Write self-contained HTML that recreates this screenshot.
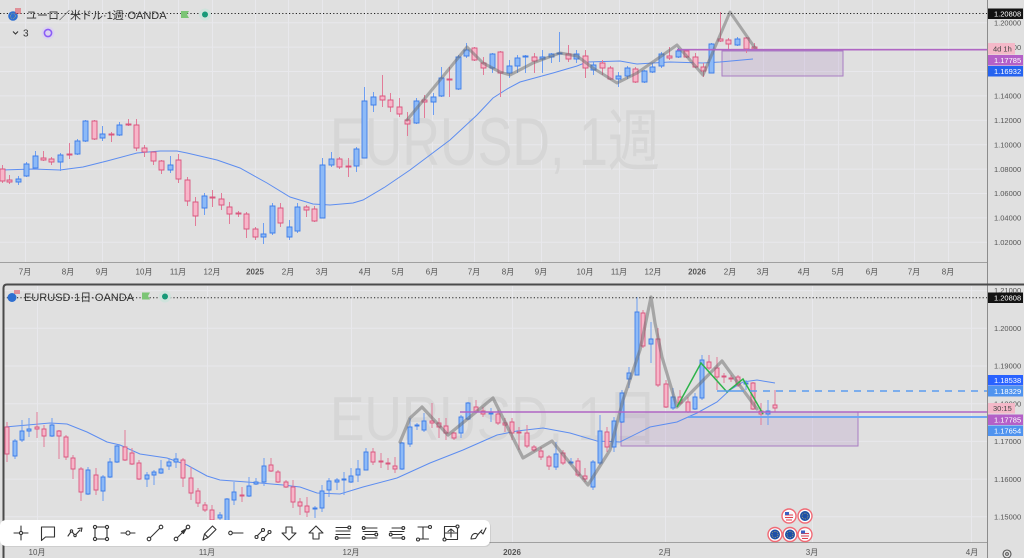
<!DOCTYPE html>
<html><head><meta charset="utf-8">
<style>
html,body{margin:0;padding:0;background:#e0e0e0;overflow:hidden;}
svg{display:block;font-family:"Liberation Sans","Noto Sans CJK JP",sans-serif;}
</style></head><body>
<svg width="1024" height="558" viewBox="0 0 1024 558" xmlns="http://www.w3.org/2000/svg">
<defs>
<clipPath id="ct"><rect x="0" y="0" width="987" height="262"/></clipPath>
<clipPath id="cb"><rect x="4" y="286" width="983" height="256"/></clipPath>
</defs>
<rect width="1024" height="558" fill="#e0e0e0"/>

<!-- TOP PANE -->
<g clip-path="url(#ct)">
<g stroke="#e8e8ec" stroke-width="1">
<path d="M0 22.7H987M0 47.1H987M0 71.5H987M0 95.9H987M0 120.3H987M0 144.7H987M0 169.1H987M0 193.5H987M0 217.9H987M0 242.3H987"/>
<path d="M25.5 0V262M68.5 0V262M102.5 0V262M144.5 0V262M178.5 0V262M212.5 0V262M255.5 0V262M288.5 0V262M322.5 0V262M365.5 0V262M398.5 0V262M432.5 0V262M474.5 0V262M508.5 0V262M541.5 0V262M585.5 0V262M619.5 0V262M653.5 0V262M697.5 0V262M730.5 0V262M763.5 0V262M804.5 0V262M838.5 0V262M872.5 0V262M914.5 0V262M948.5 0V262"/>
</g>
<text x="330" y="165" font-size="68" textLength="330" lengthAdjust="spacingAndGlyphs" fill="#d6d6d6">EURUSD, 1週</text>
<rect x="722" y="51" width="121" height="25" fill="rgba(150,100,180,0.16)" stroke="#a97dc2" stroke-width="1"/>
<polyline fill="none" stroke="#5d8df0" stroke-width="1" points="2,170 33,169 60,170 83,167 107,161 137,153 160,151 177,151 187,153 217,160 240,168 267,183 290,197 313,204 330,205 353,203 363,200 385,187 410,170 450,140 477,115 493,98 507,89 520,82 553,73 577,66 587,62 620,61 637,64 653,63 670,62 703,63 720,62 753,59"/>
<!-- weekly wicks -->
<path fill="none" stroke="#6d9ef2" stroke-width="1" d="M18.5 176V185M26.5 162V177M35.5 151V169M60.5 153V171M77.5 139V155M85.5 120V142M102.5 126V141M119.5 122V136M170.5 156V173M204.5 193V215M263.5 223V244M272.5 203V235M289.5 220V240M297.5 203V233M322.5 158V218M331.5 152V167M356.5 147V172M364.5 87V158M373.5 92V112M416.5 98V124M433.5 93V115M441.5 67V97M458.5 55V90M466.5 43V58M492.5 53V73M509.5 60V78M517.5 55V73M525.5 55V73M542.5 50V73M551.5 53V63M559.5 32V62M576.5 50V63M593.5 62V75M618.5 72V87M627.5 66V79M644.5 70V83M652.5 63V73M661.5 52V68M678.5 48V58M711.5 43V73M737.5 37V46"/>
<path fill="none" stroke="#e27b98" stroke-width="1" d="M2.5 165V183M9.5 175V184M43.5 151V161M51.5 157V165M69.5 143V159M94.5 120V140M111.5 132V142M128.5 119V126M136.5 119V151M144.5 145V157M153.5 152V165M161.5 160V174M178.5 154V183M187.5 177V206M195.5 197V226M212.5 190V207M221.5 193V210M229.5 202V224M238.5 211V217M246.5 212V238M255.5 227V240M280.5 203V227M306.5 205V217M314.5 206V222M339.5 157V169M348.5 158V177M382.5 75V107M390.5 93V112M399.5 98V117M407.5 112V136M424.5 95V118M449.5 67V97M474.5 47V61M483.5 57V75M500.5 51V97M534.5 53V73M568.5 45V62M585.5 50V78M602.5 60V75M610.5 66V80M635.5 67V83M669.5 47V60M686.5 49V58M695.5 53V68M703.5 63V77M720.5 12V42M728.5 38V50M746.5 37V53M754.5 43V50"/>
<!-- weekly bodies -->
<path fill="#8dbaf7" stroke="#3f7ee8" stroke-width="0.9" d="M16 179h5v3h-5zM24 164h5v12h-5zM33 156h5v12h-5zM58 155h5v7h-5zM75 141h5v13h-5zM83 121h5v20h-5zM100 134h5v4h-5zM117 125h5v10h-5zM168 165h5v5h-5zM202 196h5v12h-5zM261 234h5v3h-5zM270 206h5v27h-5zM287 227h5v10h-5zM295 207h5v24h-5zM320 165h5v53h-5zM329 159h5v6h-5zM354 149h5v17h-5zM362 101h5v57h-5zM371 97h5v8h-5zM414 101h5v22h-5zM431 97h5v5h-5zM439 78h5v18h-5zM456 57h5v32h-5zM464 50h5v6h-5zM490 54h5v14h-5zM507 66h5v7h-5zM515 58h5v8h-5zM523 56h5v1h-5zM540 57h5v2h-5zM549 54h5v3h-5zM557 53h5v1h-5zM574 54h5v5h-5zM591 65h5v5h-5zM616 76h5v3h-5zM625 68h5v8h-5zM642 71h5v11h-5zM650 67h5v5h-5zM659 54h5v12h-5zM676 51h5v6h-5zM709 44h5v29h-5zM735 39h5v6h-5z"/>
<path fill="#f7b6c9" stroke="#d9577f" stroke-width="0.9" d="M0 169h5v12h-5zM7 180h5v2h-5zM41 158h5v2h-5zM49 159h5v3h-5zM67 154h5v1h-5zM92 121h5v18h-5zM109 134h5v1h-5zM126 124h5v1h-5zM134 125h5v23h-5zM142 148h5v4h-5zM151 152h5v9h-5zM159 161h5v9h-5zM176 160h5v19h-5zM185 180h5v21h-5zM193 202h5v14h-5zM210 197h5v1h-5zM219 199h5v6h-5zM227 207h5v7h-5zM236 213h5v1h-5zM244 214h5v15h-5zM253 229h5v8h-5zM278 208h5v15h-5zM304 207h5v3h-5zM312 209h5v12h-5zM337 159h5v8h-5zM346 166h5v1h-5zM380 96h5v4h-5zM388 100h5v7h-5zM397 107h5v7h-5zM405 120h5v4h-5zM422 100h5v2h-5zM447 79h5v1h-5zM472 48h5v12h-5zM481 63h5v5h-5zM498 52h5v21h-5zM532 57h5v4h-5zM566 54h5v5h-5zM583 56h5v12h-5zM600 63h5v5h-5zM608 68h5v11h-5zM633 69h5v13h-5zM667 56h5v2h-5zM684 51h5v6h-5zM693 57h5v10h-5zM701 67h5v4h-5zM718 39h5v2h-5zM726 40h5v4h-5zM744 38h5v11h-5zM752 47h5v2h-5z"/>
<polyline fill="none" stroke="rgba(105,105,105,0.5)" stroke-width="3" stroke-linejoin="round" stroke-linecap="round" points="407,120 440,80 467,47 483,63 500,72 510,75 533,63 560,53 577,56 593,68 617,83 637,73 660,57 677,45 703,75 730,12 755,48"/>
<path d="M677 49.7H987" stroke="#b066c4" stroke-width="1.6"/>
<path d="M0 13.5H987" stroke="#222" stroke-width="1" stroke-dasharray="1.2 2.2"/>
</g>

<!-- top header -->
<circle cx="13" cy="16" r="4.8" fill="#2f6fd0"/>
<circle cx="13" cy="16" r="2.5" fill="none" stroke="#f2d04a" stroke-width="0.6" stroke-dasharray="0.6 1"/>
<path d="M15 9h6M15 11h6M15 13h6" stroke="#e04050" stroke-width="1"/>
<text x="26" y="19" font-size="11" fill="#333">ユーロ／米ドル·1週·OANDA</text>
<path d="M181 11h8l-2 3.5l2 3.5h-8z" fill="#7cc576"/>
<circle cx="205" cy="14.5" r="6" fill="#cfe3dc"/>
<circle cx="205" cy="14.5" r="3" fill="#169a78"/>
<path d="M13 31.5l2.5 2.5l2.5-2.5" fill="none" stroke="#333" stroke-width="1.1"/>
<text x="23" y="36.5" font-size="10" fill="#333">3</text>
<circle cx="48" cy="33" r="6.5" fill="#dcd3ef"/>
<circle cx="48" cy="33" r="3.6" fill="none" stroke="#8b5cf6" stroke-width="1.6"/>

<!-- top time axis -->
<path d="M0 262.5H987" stroke="#a0a0a0" stroke-width="1"/>
<g font-size="8" fill="#555" text-anchor="middle">
<text x="25" y="274.5">7月</text><text x="68" y="274.5">8月</text><text x="102" y="274.5">9月</text><text x="144" y="274.5">10月</text><text x="178" y="274.5">11月</text><text x="212" y="274.5">12月</text><text x="255" y="274.5" font-weight="bold">2025</text><text x="288" y="274.5">2月</text><text x="322" y="274.5">3月</text><text x="365" y="274.5">4月</text><text x="398" y="274.5">5月</text><text x="432" y="274.5">6月</text><text x="474" y="274.5">7月</text><text x="508" y="274.5">8月</text><text x="541" y="274.5">9月</text><text x="585" y="274.5">10月</text><text x="619" y="274.5">11月</text><text x="653" y="274.5">12月</text><text x="697" y="274.5" font-weight="bold">2026</text><text x="730" y="274.5">2月</text><text x="763" y="274.5">3月</text><text x="804" y="274.5">4月</text><text x="838" y="274.5">5月</text><text x="872" y="274.5">6月</text><text x="914" y="274.5">7月</text><text x="948" y="274.5">8月</text>
</g>

<!-- top price axis -->
<g font-size="7.5" fill="#555">
<text x="994" y="25.4">1.20000</text><text x="994" y="49.8">1.18000</text><text x="994" y="74.2">1.16000</text><text x="994" y="98.6">1.14000</text><text x="994" y="123">1.12000</text><text x="994" y="147.4">1.10000</text><text x="994" y="171.8">1.08000</text><text x="994" y="196.2">1.06000</text><text x="994" y="220.6">1.04000</text><text x="994" y="245">1.02000</text>
</g>
<g font-size="7.5">
<rect x="988" y="8.5" width="35" height="10.5" fill="#131313"/><text x="994" y="16.5" fill="#fff">1.20808</text>
<rect x="988" y="43" width="27" height="11.5" fill="#f4b8c8"/><text x="993" y="51.5" fill="#444">4d 1h</text>
<rect x="988" y="55" width="35" height="10.5" fill="#b460c8"/><text x="994" y="63" fill="#fff">1.17785</text>
<rect x="988" y="66" width="35" height="10.5" fill="#2563f0"/><text x="994" y="74" fill="#fff">1.16932</text>
</g>
<path d="M987.5 0V284" stroke="#8c8c8c" stroke-width="1"/>

<!-- BOTTOM PANE -->
<g clip-path="url(#cb)">
<g stroke="#e8e8ec" stroke-width="1">
<path d="M0 290.6H987M0 328.3H987M0 366H987M0 403.7H987M0 441.4H987M0 479.1H987M0 516.8H987"/>
<path d="M37.5 286V542M207.5 286V542M351.5 286V542M512.5 286V542M665.5 286V542M812.5 286V542M971.5 286V542"/>
</g>
<text x="330" y="440" font-size="62" textLength="328" lengthAdjust="spacingAndGlyphs" fill="#d6d6d6">EURUSD, 1日</text>
<rect x="621" y="412" width="237" height="34" fill="rgba(150,100,180,0.16)" stroke="#a97dc2" stroke-width="1"/>
<polyline fill="none" stroke="#5d8df0" stroke-width="1" points="5,427 50,423 67,424 87,432 107,442 120,445 140,454 167,458 187,465 207,476 220,480 260,483 283,485 300,487 317,493 340,494 363,487 397,478 430,463 463,450 497,435 517,431 543,428 570,433 597,441 620,442 650,427 677,422 697,413 717,402 730,390 743,382 757,380 775,383"/>
<!-- daily wicks -->
<path fill="none" stroke="#6d9ef2" stroke-width="1" d="M15 439V459M22 420V442M29 418V437M52 418V437M88 467V495M103 475V501M110 458V478M117 445V463M147 472V487M154 470V485M161 460V474M169 458V470M176 453V468M220 512V522M227 498V525M234 482V505M249 477V497M256 478V485M264 458V486M315 506V518M322 485V512M329 478V497M337 478V490M344 472V495M351 468V483M358 460V482M366 448V470M402 442V470M410 418V447M417 423V430M424 413V432M461 415V438M468 402V420M491 408V422M556 442V470M571 458V465M593 460V490M600 415V465M614 417V452M622 390V423M629 367V388M637 297V375M651 322V363M673 388V410M695 393V410M702 355V400M746 380V390M768 400V425"/>
<path fill="none" stroke="#e27b98" stroke-width="1" d="M7 422V462M37 412V438M44 425V447M59 430V459M66 435V460M73 455V479M81 467V501M96 468V495M125 430V461M132 448V465M139 460V480M183 458V487M191 467V500M198 488V507M205 502V512M212 505V525M242 487V502M271 458V472M278 470V483M286 480V488M293 480V508M300 498V515M307 497V517M373 448V465M381 453V468M388 458V470M395 457V473M432 403V428M439 418V438M446 418V440M454 432V440M476 400V413M483 407V417M498 410V425M505 418V432M512 418V440M519 427V450M527 425V448M534 445V452M541 447V460M549 455V470M563 450V465M578 458V477M585 468V482M607 427V452M643 310V348M658 328V387M666 380V408M680 390V405M688 397V413M709 355V370M717 357V390M724 373V383M731 375V382M738 375V387M753 382V410M761 403V425M775 390V412"/>
<!-- daily bodies -->
<path fill="#8dbaf7" stroke="#3f7ee8" stroke-width="0.9" d="M13 441h4v15h-4zM20 431h4v9h-4zM27 429h4v2h-4zM50 425h4v11h-4zM86 470h4v24h-4zM101 477h4v14h-4zM108 462h4v15h-4zM115 446h4v16h-4zM145 475h4v4h-4zM152 472h4v3h-4zM159 469h4v4h-4zM167 462h4v4h-4zM174 459h4v3h-4zM218 515h4v3h-4zM225 499h4v26h-4zM232 492h4v8h-4zM247 486h4v10h-4zM254 482h4v2h-4zM262 466h4v16h-4zM313 508h4v1h-4zM320 491h4v17h-4zM327 481h4v9h-4zM335 480h4v2h-4zM342 479h4v1h-4zM349 476h4v6h-4zM356 469h4v6h-4zM364 452h4v18h-4zM400 443h4v26h-4zM408 427h4v17h-4zM415 425h4v1h-4zM422 421h4v9h-4zM459 417h4v16h-4zM466 403h4v16h-4zM489 413h4v1h-4zM554 454h4v13h-4zM569 462h4v1h-4zM591 462h4v25h-4zM598 431h4v32h-4zM612 421h4v26h-4zM620 393h4v29h-4zM627 373h4v6h-4zM635 312h4v63h-4zM649 339h4v5h-4zM671 397h4v11h-4zM693 397h4v12h-4zM700 360h4v38h-4zM744 383h4v1h-4zM766 411h4v3h-4z"/>
<path fill="#f7b6c9" stroke="#d9577f" stroke-width="0.9" d="M5 427h4v27h-4zM35 427h4v2h-4zM42 429h4v7h-4zM57 431h4v5h-4zM64 437h4v20h-4zM71 458h4v11h-4zM79 469h4v23h-4zM94 475h4v15h-4zM123 447h4v13h-4zM130 453h4v11h-4zM137 463h4v16h-4zM181 460h4v18h-4zM189 478h4v15h-4zM196 491h4v12h-4zM203 505h4v5h-4zM210 510h4v10h-4zM240 495h4v1h-4zM269 465h4v6h-4zM276 472h4v10h-4zM284 482h4v5h-4zM291 487h4v15h-4zM298 502h4v4h-4zM305 506h4v6h-4zM371 452h4v10h-4zM379 461h4v1h-4zM386 463h4v1h-4zM393 466h4v3h-4zM430 421h4v2h-4zM437 423h4v4h-4zM444 426h4v7h-4zM452 433h4v5h-4zM474 407h4v5h-4zM481 411h4v3h-4zM496 414h4v9h-4zM503 423h4v2h-4zM510 422h4v11h-4zM517 432h4v1h-4zM525 433h4v13h-4zM532 447h4v3h-4zM539 451h4v6h-4zM547 457h4v9h-4zM561 453h4v10h-4zM576 461h4v14h-4zM583 476h4v3h-4zM605 432h4v15h-4zM641 313h4v33h-4zM656 339h4v46h-4zM664 384h4v23h-4zM678 397h4v6h-4zM686 402h4v10h-4zM707 362h4v6h-4zM715 368h4v9h-4zM722 376h4v1h-4zM729 378h4v1h-4zM736 377h4v8h-4zM751 383h4v26h-4zM759 411h4v3h-4zM773 405h4v3h-4z"/>
<polyline fill="none" stroke="rgba(105,105,105,0.5)" stroke-width="3.2" stroke-linejoin="round" stroke-linecap="round" points="400,442 410,418 422,407 448,435 493,398 523,458 552,441 588,485 610,450 623,400 640,350 651,297 655,323 662,357 677,407 722,361 757,409"/>
<polyline fill="none" stroke="#2db34a" stroke-width="1.5" points="677,407 701,363 727,392 743,379 763,414"/>
<path d="M460 412H987" stroke="#b066c4" stroke-width="1.6"/>
<path d="M688 417H987" stroke="#6fa6f2" stroke-width="2"/>
<path d="M717 391H737" stroke="#5b9cf0" stroke-width="1.5"/>
<path d="M737 391H987" stroke="#5b9cf0" stroke-width="1.5" stroke-dasharray="7 6"/>
<path d="M0 297.7H987" stroke="#222" stroke-width="1" stroke-dasharray="1.2 2.2"/>
</g>

<!-- bottom header -->
<circle cx="12" cy="297.5" r="4.5" fill="#2f6fd0"/>
<path d="M14 291h6M14 293h6" stroke="#e04050" stroke-width="1"/>
<text x="24" y="301" font-size="11" fill="#333">EURUSD·1日·OANDA</text>
<path d="M142 292.5h8l-2 3.5l2 3.5h-8z" fill="#7cc576"/>
<circle cx="165" cy="296.5" r="6" fill="#cfe3dc"/>
<circle cx="165" cy="296.5" r="3" fill="#169a78"/>

<!-- bottom price axis -->
<g font-size="7.5" fill="#555">
<text x="994" y="293">1.21000</text><text x="994" y="331">1.20000</text><text x="994" y="368.7">1.19000</text><text x="994" y="406.4">1.18000</text><text x="994" y="444.1">1.17000</text><text x="994" y="481.8">1.16000</text><text x="994" y="519.5">1.15000</text>
</g>
<g font-size="7.5">
<rect x="988" y="292.5" width="35" height="10.5" fill="#131313"/><text x="994" y="300.5" fill="#fff">1.20808</text>
<rect x="988" y="375" width="35" height="10.5" fill="#2962ff"/><text x="994" y="383" fill="#fff">1.18538</text>
<rect x="988" y="386" width="35" height="10.5" fill="#4f93ef"/><text x="994" y="394" fill="#fff">1.18329</text>
<rect x="988" y="403" width="27" height="10.5" fill="#f4b8c8"/><text x="993" y="411" fill="#444">30:15</text>
<rect x="988" y="414.5" width="35" height="10.5" fill="#b460c8"/><text x="994" y="422.5" fill="#fff">1.17785</text>
<rect x="988" y="425.5" width="35" height="10.5" fill="#4f93ef"/><text x="994" y="433.5" fill="#fff">1.17654</text>
</g>

<!-- bottom time axis -->
<path d="M4 542.5H987" stroke="#a0a0a0" stroke-width="1"/>
<g font-size="8" fill="#555" text-anchor="middle">
<text x="37" y="555">10月</text><text x="207" y="555">11月</text><text x="351" y="555">12月</text><text x="512" y="555" font-weight="bold">2026</text><text x="665" y="555">2月</text><text x="812" y="555">3月</text><text x="972" y="555">4月</text>
</g>
<circle cx="1007" cy="554" r="4" fill="none" stroke="#555" stroke-width="1.1"/>
<circle cx="1007" cy="554" r="1.4" fill="none" stroke="#555" stroke-width="1"/>

<!-- pane frame -->
<path d="M987.5 284V558" stroke="#8c8c8c" stroke-width="1"/>
<path d="M3.5 558V288Q3.5 284.5 7 284.5H1024" fill="none" stroke="#4a4a4a" stroke-width="2"/>

<!-- event icons -->
<g stroke="#f06a75" stroke-width="1.4">
<g transform="translate(789,516)"><circle r="7" fill="#fff"/><circle r="5" fill="#f4f4f8" stroke="none"/><path d="M-4 -1H4M-4 1.5H4M-3 4H3" stroke="#e04050" stroke-width="1"/><rect x="-4" y="-4" width="4" height="3" fill="#3a5fc0" stroke="none"/></g>
<g transform="translate(805,516)"><circle r="7" fill="#fff"/><circle r="5" fill="#1d4fa8" stroke="none"/><circle r="3" fill="none" stroke="#f2d04a" stroke-width="0.7" stroke-dasharray="0.7 1.1"/></g>
<g transform="translate(775,534.5)"><circle r="7" fill="#fff"/><circle r="5" fill="#1d4fa8" stroke="none"/><circle r="3" fill="none" stroke="#f2d04a" stroke-width="0.7" stroke-dasharray="0.7 1.1"/></g>
<g transform="translate(790,534.5)"><circle r="7" fill="#fff"/><circle r="5" fill="#1d4fa8" stroke="none"/><circle r="3" fill="none" stroke="#f2d04a" stroke-width="0.7" stroke-dasharray="0.7 1.1"/></g>
<g transform="translate(805,534.5)"><circle r="7" fill="#fff"/><circle r="5" fill="#f4f4f8" stroke="none"/><path d="M-4 -1H4M-4 1.5H4M-3 4H3" stroke="#e04050" stroke-width="1"/><rect x="-4" y="-4" width="4" height="3" fill="#3a5fc0" stroke="none"/></g>
</g>

<!-- toolbar -->
<rect x="1" y="521" width="490" height="26" rx="6" fill="rgba(0,0,0,0.08)"/>
<rect x="0" y="520" width="490" height="26" rx="6" fill="#ffffff"/>
<g fill="none" stroke="#333" stroke-width="1.1" stroke-linecap="round" stroke-linejoin="round">
<g transform="translate(21,533)"><path d="M-7 0H7M0-7V7"/><circle r="1.6" fill="#fff"/></g>
<g transform="translate(48,533)"><path d="M-6.5-6H6.5V4H-2.5L-6.5 7.5Z"/></g>
<g transform="translate(75,533)"><path d="M-7 3L-3.5-2L0 2.5L5-3M3-4.5L7-5L6.2-1.5"/><circle cx="-3.5" cy="-2" r="1.2" fill="#fff"/><circle cx="0" cy="2.5" r="1.2" fill="#fff"/></g>
<g transform="translate(101,533)"><rect x="-6" y="-6" width="12" height="12"/><circle cx="-6" cy="-6" r="1.6" fill="#fff"/><circle cx="6" cy="-6" r="1.6" fill="#fff"/><circle cx="-6" cy="6" r="1.6" fill="#fff"/><circle cx="6" cy="6" r="1.6" fill="#fff"/></g>
<g transform="translate(128,533)"><path d="M-7 0H-2M2 0H7"/><circle r="2" fill="#fff"/></g>
<g transform="translate(155,533)"><path d="M-4.5 4.5L4.5-4.5"/><circle cx="-6" cy="6" r="1.8" fill="#fff"/><circle cx="6" cy="-6" r="1.8" fill="#fff"/></g>
<g transform="translate(182,533)"><path d="M-4.5 4.5L4.5-4.5"/><path d="M-0.5-1.5L4-4L1.5 0.5Z" fill="#333"/><circle cx="-6" cy="6" r="1.8" fill="#fff"/><circle cx="6" cy="-6" r="1.8" fill="#fff"/></g>
<g transform="translate(209,533)"><path d="M-6 7L-4.5 1L3.5-7L7-3.5L-1 4.5Z M-4.5 1L-1 4.5"/></g>
<g transform="translate(236,533)"><circle cx="-5.5" cy="0" r="1.8" fill="#fff"/><path d="M-3.7 0H7"/></g>
<g transform="translate(263,533)"><path d="M-6 3L-1-2M1 5L6 0"/><circle cx="-6.5" cy="4" r="1.5" fill="#fff"/><circle cx="0" cy="-3" r="1.5" fill="#fff"/><circle cx="0" cy="6" r="1.5" fill="#fff"/><circle cx="6.5" cy="-1" r="1.5" fill="#fff"/></g>
<g transform="translate(289,533)"><path d="M-3-6H3V0H7L0 7L-7 0H-3Z"/></g>
<g transform="translate(316,533)"><path d="M-3 6H3V0H7L0-7L-7 0H-3Z"/></g>
<g transform="translate(343,533)"><path d="M-7-5.5H7M-7-2H7M-7 1.5H7M-5 5H7"/><circle cx="-6.3" cy="5" r="1.4" fill="#fff"/><circle cx="6.3" cy="-5.5" r="1.4" fill="#fff"/></g>
<g transform="translate(370,533)"><path d="M-5-5H7M-7-1.5H7M-5 1.5H5M-5 5H7"/><circle cx="-6.3" cy="-5" r="1.4" fill="#fff"/><circle cx="-6.3" cy="5" r="1.4" fill="#fff"/><circle cx="6.3" cy="1.5" r="1.4" fill="#fff"/></g>
<g transform="translate(397,533)"><path d="M-5-5H5M-7-1.5H7M-5 1.5H5M-5 5H5"/><circle cx="6.3" cy="-5" r="1.4" fill="#fff"/><circle cx="-6.3" cy="1.5" r="1.4" fill="#fff"/><circle cx="6.3" cy="5" r="1.4" fill="#fff"/></g>
<g transform="translate(424,533)"><path d="M-6-6H4.5M-1-6V6M-6 6H4.5"/><circle cx="6" cy="-6" r="1.5" fill="#fff"/><circle cx="-6" cy="6.5" r="1.5" fill="#fff"/></g>
<g transform="translate(451,533)"><rect x="-6.5" y="-6.5" width="13" height="13"/><path d="M0-4V4M-3-1.5L0-4L3-1.5M-6.5 0H6.5"/><circle cx="6.5" cy="-6.5" r="1.5" fill="#fff"/><circle cx="-6.5" cy="6.5" r="1.5" fill="#fff"/></g>
<g transform="translate(478,533)"><path d="M-7 6C-6.5 1-3-1 0 1.5L-2.5 5.5Z M0 1.5L4-3M3 -1L5 1L8-5"/></g>
</g>
</svg>
</body></html>
